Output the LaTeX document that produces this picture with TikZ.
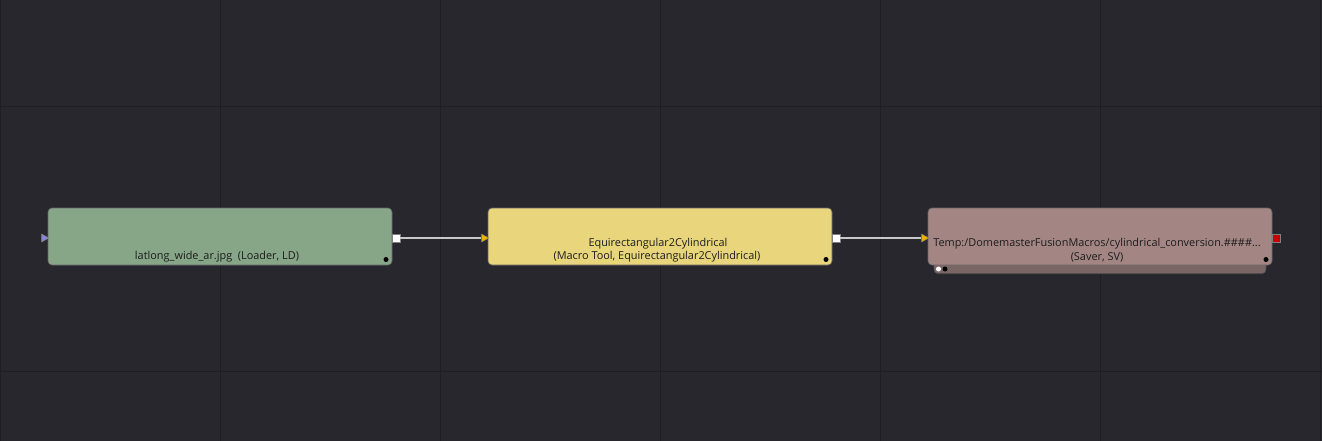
\documentclass[tikz,border=0pt]{standalone}
\usepackage{fontspec}
\setmainfont{Open Sans}
\usetikzlibrary{shapes.geometric}
\definecolor{bgc}{HTML}{28272D}
\definecolor{gridc}{HTML}{1F1E23}
\definecolor{loaderc}{HTML}{87A688}
\definecolor{macroc}{HTML}{E8D57C}
\definecolor{saverc}{HTML}{A38684}
\definecolor{saverbar}{HTML}{7A6665}
\definecolor{txtc}{HTML}{1C1C1C}
\definecolor{portyel}{HTML}{F0B000}
\definecolor{portpur}{HTML}{8A86D6}
\definecolor{portred}{HTML}{C80000}
\definecolor{linec}{HTML}{C8C8C8}
\tikzset{
  toolbox/.style={draw=black!60, line width=0.6pt, rounded corners=4pt, minimum width=344pt, minimum height=57pt, inner sep=0pt},
  lbl/.style={text=txtc, font=\fontsize{10.9}{13}\selectfont, inner sep=0pt, align=center},
  inport/.style={isosceles triangle, isosceles triangle stretches, minimum width=8pt, minimum height=7pt, inner sep=0pt, draw=black!50, line width=0.4pt},
  outport/.style={rectangle, minimum size=8pt, inner sep=0pt, draw=black!50, line width=0.4pt},
  dotmark/.style={circle, fill=black, minimum size=5pt, inner sep=0pt},
  wire/.style={draw=linec, line width=1.1pt},
}
\begin{document}
\begin{tikzpicture}[x=1pt, y=-1pt]
\fill[bgc] (0,0) rectangle (1322,441);
\useasboundingbox (0,0) rectangle (1322,441);
% grid
\foreach \gx in {0.5,220,440,660,880,1100,1320}
  \draw[gridc, line width=1pt] (\gx,0) -- (\gx,441);
\foreach \gy in {107,371}
  \draw[gridc, line width=1pt] (0,\gy) -- (1322,\gy);
% saver under-bar
\node[toolbox, fill=saverbar, draw=black!70, minimum width=332pt, minimum height=20pt, anchor=south] (sbar) at (1100,274) {};
% tool boxes
\node[toolbox, fill=loaderc] (ld) at (220,236.5) {};
\node[toolbox, fill=macroc] (mt) at (660,236.5) {};
\node[toolbox, fill=saverc] (sv) at (1100,236.5) {};
% labels
\node[lbl] (ldt) at (217,257) {latlong\_wide\_ar.jpg\ \ (Loader, LD)};
\node[lbl] (mtt1) at (658,244) {Equirectangular2Cylindrical};
\node[lbl] (mtt2) at (657,257) {(Macro Tool, Equirectangular2Cylindrical)};
\node[lbl] (svt1) at (1097,244) {Temp:/DomemasterFusionMacros/cylindrical\_conversion.\#\#\#\#...};
\node[lbl] (svt2) at (1097,257) {(Saver, SV)};
% dots
\node[dotmark] (ldd) at (386,259.5) {};
\node[dotmark] (mtd) at (826,259.5) {};
\node[dotmark] (svd) at (1266,259.5) {};
\node[dotmark, fill=white] (sbw) at (938.5,269) {};
\node[dotmark] (sbb) at (945,269) {};
% ports
\node[inport, fill=portpur] (ldin) at (44,238) {};
\node[outport, fill=white] (ldout) at (396,238) {};
\node[inport, fill=portyel] (mtin) at (484,238) {};
\node[outport, fill=white] (mtout) at (836,238) {};
\node[inport, fill=portyel] (svin) at (924,238) {};
\node[outport, fill=portred] (svout) at (1276,238) {};
% wires
\draw[wire] (ldout.east) -- (mtin.west);
\draw[wire] (mtout.east) -- (svin.west);
\end{tikzpicture}
\end{document}
